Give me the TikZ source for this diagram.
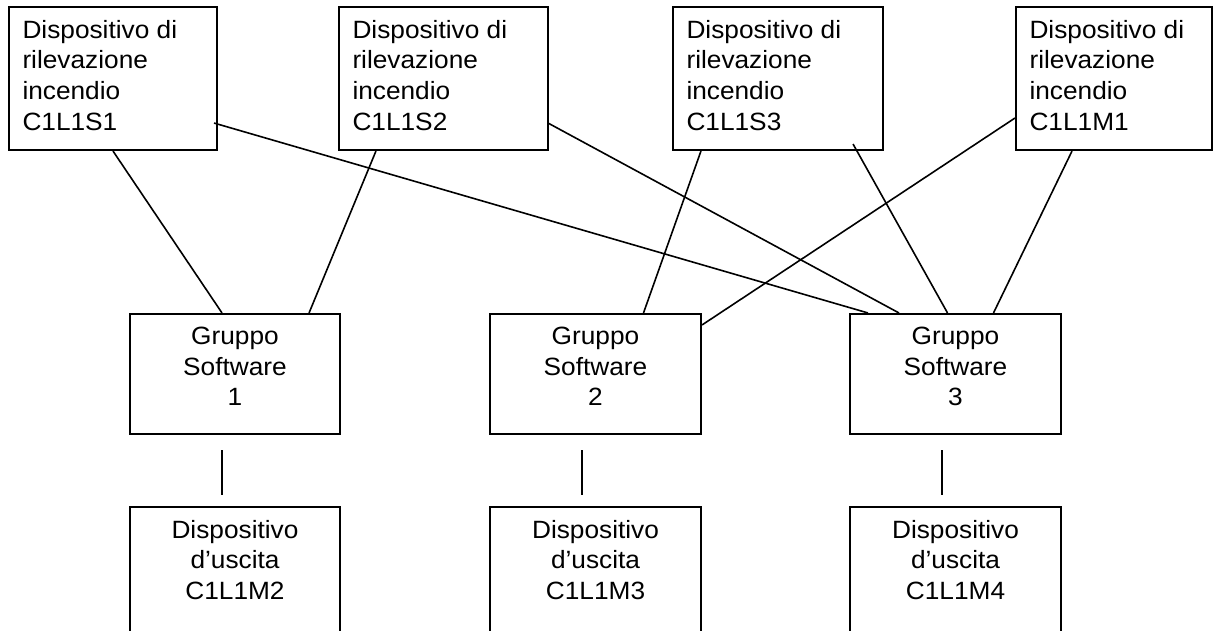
\documentclass[tikz,border=0pt]{standalone}
\usepackage{fontspec}
\setmainfont{Liberation Sans}[FakeStretch=1.05]
\newcommand{\ltext}[3]{\parbox[c][#2][t]{#1}{\raggedright #3}}
\newcommand{\ctext}[3]{\parbox[c][#2][t]{#1}{\centering #3}}

\begin{document}
\begin{tikzpicture}[x=1pt,y=-1pt]
  \tikzset{dev box/.style={draw,line width=2.1pt,inner xsep=13.5pt,inner ysep=13pt,
      font=\fontsize{25}{30.7}\selectfont},
    link/.style={line width=1.6pt}}
  \useasboundingbox (0,0) rectangle (1214,631);
  % rilevazione
  \node[dev box](b1) at (113,78.5) {\ltext{181pt}{117pt}{Dispositivo di\\rilevazione\\incendio\\C1L1S1}};
  \node[dev box](b2) at (443.5,78.5) {\ltext{182pt}{117pt}{Dispositivo di\\rilevazione\\incendio\\C1L1S2}};
  \node[dev box](b3) at (778,78.5) {\ltext{183pt}{117pt}{Dispositivo di\\rilevazione\\incendio\\C1L1S3}};
  \node[dev box](b4) at (1114,78.5) {\ltext{169pt}{117pt}{Dispositivo di\\rilevazione\\incendio\\C1L1M1}};
  % gruppi
  \node[dev box](g1) at (235,374) {\ctext{183pt}{94pt}{Gruppo\\Software\\1}};
  \node[dev box](g2) at (595.5,374) {\ctext{184pt}{94pt}{Gruppo\\Software\\2}};
  \node[dev box](g3) at (955.5,374) {\ctext{184pt}{94pt}{Gruppo\\Software\\3}};
  % uscita
  \node[dev box](d1) at (235,577) {\ctext{183pt}{114pt}{Dispositivo\\d’uscita\\C1L1M2}};
  \node[dev box](d2) at (595.5,577) {\ctext{184pt}{114pt}{Dispositivo\\d’uscita\\C1L1M3}};
  \node[dev box](d3) at (955.5,577) {\ctext{184pt}{114pt}{Dispositivo\\d’uscita\\C1L1M4}};
  \draw[link] (b1.south) -- ([xshift=-13pt]g1.north);
  \draw[link] ([xshift=38pt]b2.south west) -- ([xshift=-32pt]g1.north east);
  \draw[link] ([xshift=-4pt,yshift=28pt]b1.south east) -- ([xshift=19pt]g3.north west);
  \draw[link] ([xshift=-1pt,yshift=28pt]b2.south east) -- ([xshift=50pt]g3.north west);
  \draw[link] ([xshift=29pt]b3.south west) -- ([xshift=48pt]g2.north);
  \draw[link] ([xshift=-31pt,yshift=7pt]b3.south east) -- ([xshift=-8pt]g3.north);
  \draw[link] ([yshift=33pt]b4.south west) -- ([yshift=-12pt]g2.north east);
  \draw[link] ([xshift=-42pt]b4.south) -- ([xshift=38pt]g3.north);
  \draw[link] ([xshift=-13pt,yshift=-15pt]g1.south) -- ([xshift=-13pt,yshift=11pt]d1.north);
  \draw[link] ([xshift=-13.5pt,yshift=-15pt]g2.south) -- ([xshift=-13.5pt,yshift=11pt]d2.north);
  \draw[link] ([xshift=-13.5pt,yshift=-15pt]g3.south) -- ([xshift=-13.5pt,yshift=11pt]d3.north);
\end{tikzpicture}
\end{document}
